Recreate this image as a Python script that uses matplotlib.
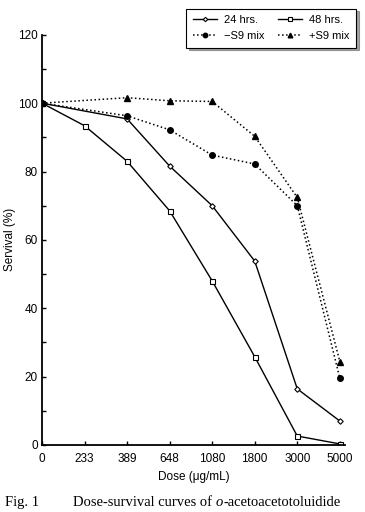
import numpy as np
import matplotlib
matplotlib.use('Agg')
import matplotlib.pyplot as plt
from matplotlib.ticker import MultipleLocator

doses = ["0", "233", "389", "648", "1080", "1800", "3000", "5000"]

# 24 hrs has no point at 233
idx_24 = [0, 2, 3, 4, 5, 6, 7]
surv_24 = [100, 95.4, 81.6, 70.0, 53.8, 16.4, 7.0]

idx_48 = [0, 1, 2, 3, 4, 5, 6, 7]
surv_48 = [100, 93.4, 83.0, 68.5, 48.0, 25.8, 2.6, 0.3]

idx_s9 = [0, 2, 3, 4, 5, 6, 7]
surv_minus_s9 = [100, 96.3, 92.2, 84.8, 82.2, 70.0, 19.5]
surv_plus_s9 = [100, 101.6, 100.7, 100.5, 90.3, 72.4, 24.4]

plt.rcParams['font.family'] = ['Liberation Sans', 'DejaVu Sans']

fig = plt.figure(figsize=(3.65, 5.12), dpi=100)
ax = fig.add_axes([0.115, 0.131, 0.83, 0.801])

h24, = ax.plot(idx_24, surv_24, '-', color='black', lw=1.0, marker='D', ms=2.8,
               mfc='white', mec='black', mew=0.8, label='24 hrs.')
h48, = ax.plot(idx_48, surv_48, '-', color='black', lw=1.0, marker='s', ms=3.6,
               mfc='white', mec='black', mew=0.8, label='48 hrs.')
hm, = ax.plot(idx_s9, surv_minus_s9, ':', color='black', lw=1.1, marker='o', ms=4,
              mfc='black', mec='black', label='\u2212S9 mix')
hp, = ax.plot(idx_s9, surv_plus_s9, ':', color='black', lw=1.1, marker='^', ms=4.2,
              mfc='black', mec='black', label='+S9 mix')

ax.set_xlim(0, 7.12)
ax.set_ylim(0, 120)
ax.set_xticks(range(len(doses)))
ax.set_xticklabels(doses)
ax.yaxis.set_major_locator(MultipleLocator(20))
ax.yaxis.set_minor_locator(MultipleLocator(10))
ax.tick_params(axis='x', direction='in', labelsize=8.5, width=1, length=3, pad=6)
ax.tick_params(axis='y', direction='in', labelsize=8.5, width=1, length=3, pad=3)
ax.tick_params(axis='y', which='minor', direction='in', length=3, width=1)
for s in ['top', 'right']:
    ax.spines[s].set_visible(False)
for s in ['left', 'bottom']:
    ax.spines[s].set_linewidth(1.3)
ax.set_xlabel('Dose (\u03bcg/mL)', fontsize=8.5, labelpad=4)
ax.set_ylabel('Servival (%)', fontsize=8.5, labelpad=4)
ax.yaxis.set_label_coords(-0.085, 0.5)

leg = ax.legend([h24, hm, h48, hp],
                ['24 hrs.', '\u2212S9 mix', '48 hrs.', '+S9 mix'],
                ncol=2, loc='upper right', bbox_to_anchor=(0.99, 0.994),
                bbox_transform=fig.transFigure, fontsize=8, frameon=True,
                fancybox=False, shadow=True, edgecolor='black',
                handlelength=2.2, handletextpad=0.6, columnspacing=1.2,
                borderpad=0.6, markerscale=0.8)
leg.get_frame().set_linewidth(0.8)

fig.text(0.014, 0.012, 'Fig. 1', fontsize=10.5, family='Liberation Serif')
cap = fig.text(0.2, 0.012, 'Dose-survival curves of ', fontsize=10.5,
               family='Liberation Serif')
fig.canvas.draw()
x1 = cap.get_window_extent().x1 / fig.bbox.width
oi = fig.text(x1, 0.012, 'o', fontsize=10.5, family='Liberation Serif',
              style='italic')
fig.canvas.draw()
x2 = oi.get_window_extent().x1 / fig.bbox.width
fig.text(x2, 0.012, '-acetoacetotoluidide', fontsize=10.5,
         family='Liberation Serif')

fig.savefig('out.png', dpi=100)
